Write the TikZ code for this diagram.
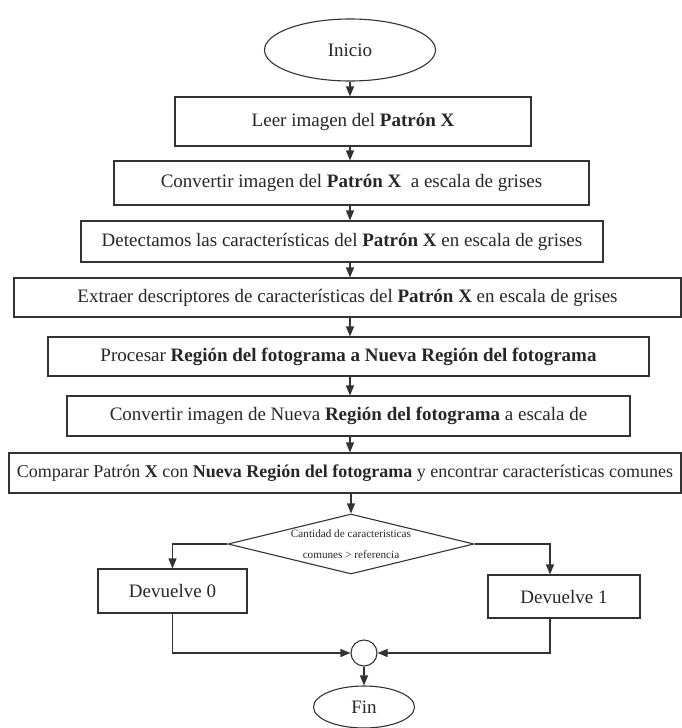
\documentclass[tikz,border=0pt]{standalone}
\usepackage{fontspec}
\setmainfont{Liberation Serif}
\usepackage{tikz}
\usetikzlibrary{arrows.meta,shapes.geometric}

\begin{document}
\begin{tikzpicture}[x=1pt,y=-1pt,>={Triangle[length=10pt,width=8pt]},
  line width=1.1pt,draw=black!80,
  caja/.style={draw=black!80,rectangle,inner sep=0pt,text=black!85,font=\fontsize{19}{22}\selectfont},
  terminal/.style={draw=black!80,ellipse,inner sep=0pt,text=black!85,font=\fontsize{19}{22}\selectfont},
  decision/.style={draw=black!80,diamond,inner sep=0pt}]
\useasboundingbox (0,0) rectangle (682,728);
% Inicio
\node[terminal,minimum width=171pt,minimum height=62pt] (inicio) at (350,50) {Inicio};
% Pasos del proceso
\node[caja,minimum width=356pt,minimum height=49pt] (leer) at (353,121.5) {Leer imagen del \textbf{Patrón X}};
\node[caja,minimum width=475pt,minimum height=44pt] (grisesX) at (351.5,183) {Convertir imagen del \textbf{Patrón X}\ \ a escala de grises};
\node[caja,minimum width=522pt,minimum height=41pt] (detectar) at (342,241.5) {Detectamos las características del \textbf{Patrón X}\ en escala de grises};
\node[caja,minimum width=667pt,minimum height=39pt] (extraer) at (347.5,297.5) {Extraer descriptores de características del \textbf{Patrón X} en escala de grises};
\node[caja,minimum width=601pt,minimum height=39pt] (procesar) at (348.5,356.5) {Procesar \textbf{Región del fotograma a Nueva Región del fotograma}};
\node[caja,minimum width=563pt,minimum height=40pt] (grisesR) at (348.5,416) {Convertir imagen de Nueva \textbf{Región del fotograma} a escala de};
\node[caja,minimum width=672pt,minimum height=40pt,font=\fontsize{18}{22}\selectfont] (comparar) at (345,473) {Comparar Patrón \textbf{X} con \textbf{Nueva Región del fotograma} y encontrar características comunes};
% Decision
\node[decision,minimum width=246pt,minimum height=60pt] (dec) at (351,544) {};
\node[align=center,inner sep=0pt,text=black!85,font=\fontsize{11.2}{21}\selectfont] (decTexto) at (dec.center) {Cantidad de caracteristicas\\comunes > referencia};
\node[caja,minimum width=149pt,minimum height=44pt] (dev0) at (172.5,591) {Devuelve 0};
\node[caja,minimum width=152pt,minimum height=43pt] (dev1) at (564,596.5) {Devuelve 1};
% Union y fin
\node[draw=black!80,circle,minimum size=26pt,inner sep=0pt] (union) at (364,653) {};
\node[terminal,minimum width=101pt,minimum height=42pt] (fin) at (364,707) {Fin};

\draw[->] (inicio) -- (leer.north -| inicio);
\draw[->] (leer.south -| inicio) -- (grisesX.north -| inicio);
\draw[->] (grisesX.south -| inicio) -- (detectar.north -| inicio);
\draw[->] (detectar.south -| inicio) -- (extraer.north -| inicio);
\draw[->] (extraer.south -| inicio) -- (procesar.north -| inicio);
\draw[->] (procesar.south -| inicio) -- (grisesR.north -| inicio);
\draw[->] (grisesR.south -| inicio) -- (comparar.north -| inicio);
\draw[->] (comparar.south -| dec) -- (dec.north);
\draw[->] (dec.west) -| (dev0.north);
\draw[->] (dec.east) -| ([xshift=-14pt]dev1.north);
\draw[->] (dev0.south) |- (union.west);
\draw[->] ([xshift=-14pt]dev1.south) |- (union.east);
\draw[->] (union) -- (fin);
\end{tikzpicture}
\end{document}
